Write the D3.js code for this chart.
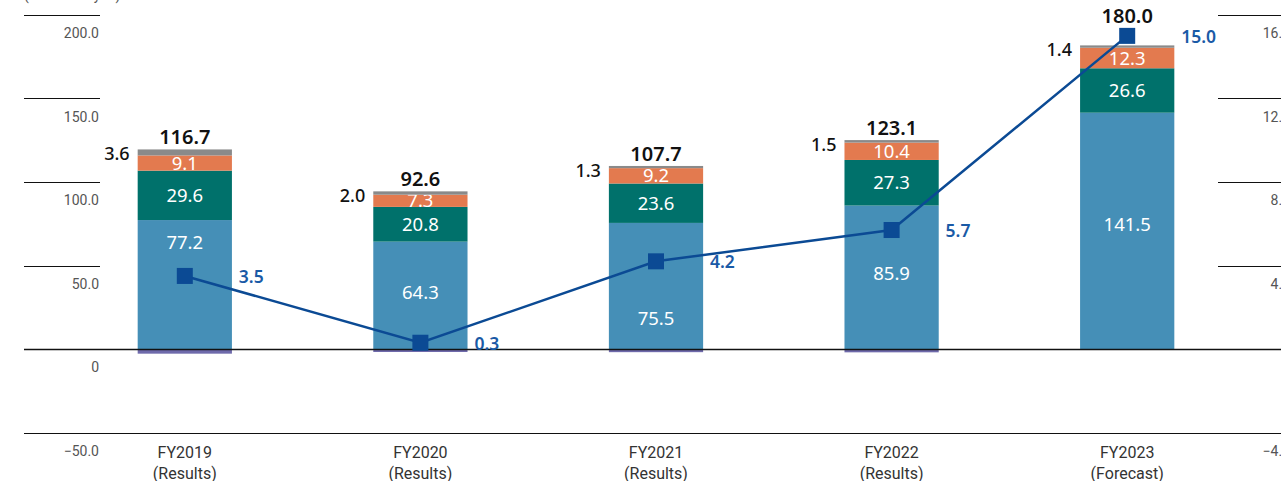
<!DOCTYPE html>
<html lang="en">
<head>
  <meta charset="UTF-8">
  <title>Results and Forecast</title>
  <script src="https://cdn.jsdelivr.net/npm/d3@7/dist/d3.min.js"></script>
  <style>
    html, body { margin: 0; padding: 0; background: #fff; }
    svg { display: block; }
    .tick-label { font-family: Roboto, sans-serif; font-size: 14px; fill: #555; }
    .cat-label { font-family: Roboto, sans-serif; font-size: 16px; fill: #333; }
    .seg-label { font-family: "Noto Sans", sans-serif; font-size: 18.5px; fill: #fff; }
    .total-label { font-family: "Noto Sans", sans-serif; font-size: 20px; font-weight: 600; fill: #111; }
    .side-label { font-family: "Noto Sans", sans-serif; font-size: 18px; font-weight: 500; fill: #111; }
    .line-label { font-family: "Noto Sans", sans-serif; font-size: 17.5px; font-weight: 600; fill: #1a5aa6; }
  </style>
</head>
<body>
  <svg width="1281" height="481"></svg>
  <script>
    const categories = ["FY2019", "FY2020", "FY2021", "FY2022", "FY2023"];
    const periods    = ["(Results)", "(Results)", "(Results)", "(Results)", "(Forecast)"];

    // stacked segments, bottom to top
    const blueVals   = [77.2, 64.3, 75.5, 85.9, 141.5];
    const greenVals  = [29.6, 20.8, 23.6, 27.3, 26.6];
    const orangeVals = [9.1, 7.3, 9.2, 10.4, 12.3];
    const grayVals   = [3.6, 2.0, 1.3, 1.5, 1.4];
    const purpleVals = [-2.8, -1.8, -1.9, -2.0, 0];   // small negative piece under zero
    const totals     = [116.7, 92.6, 107.7, 123.1, 180.0];

    const lineVals   = [3.5, 0.3, 4.2, 5.7, 15.0];

    const leftTicks  = [200, 150, 100, 50, 0, -50];
    const rightTicks = [16, 12, 8, 4, 0, -4];

    // nudge for blue labels so they clear the line markers (px)
    const blueLabelShift = [-42, -3, 33, -4, -6];

    const svg = d3.select("svg");

    const x = d3.scaleBand().domain(categories).range([67, 1245]).paddingInner(0.6).paddingOuter(0.3);
    const y = d3.scaleLinear().domain([-50, 200]).range([432.5, 15]);
    const y2 = d3.scaleLinear().domain([-4, 16]).range([432.5, 15]);
    const fmt = v => v === 0 ? "0" : d3.format(".1f")(v);

    // axis title (cut off at the top)
    svg.append("text").attr("class", "tick-label").attr("x", 24).attr("y", 0)
      .text("(Billions of yen)");

    // left grid + labels
    leftTicks.forEach(t => {
      const full = t <= 0;
      svg.append("line")
        .attr("x1", 24).attr("x2", full ? 1281 : 100)
        .attr("y1", Math.round(y(t)) + 0.5).attr("y2", Math.round(y(t)) + 0.5)
        .attr("stroke", "#111").attr("stroke-width", 1);
      svg.append("text").attr("class", "tick-label")
        .attr("x", 99).attr("y", y(t) + 23).attr("text-anchor", "end")
        .text(fmt(t));
    });

    // right grid + labels
    rightTicks.forEach(t => {
      if (t > 0) {
        svg.append("line")
          .attr("x1", 1218).attr("x2", 1281)
          .attr("y1", Math.round(y2(t)) + 0.5).attr("y2", Math.round(y2(t)) + 0.5)
          .attr("stroke", "#111").attr("stroke-width", 1);
      }
      svg.append("text").attr("class", "tick-label")
        .attr("x", 1290).attr("y", y2(t) + 23).attr("text-anchor", "end")
        .text(fmt(t));
    });

    const series = [
      { vals: blueVals,   color: "#458fb7", label: true, shift: blueLabelShift },
      { vals: greenVals,  color: "#00716b", label: true },
      { vals: orangeVals, color: "#e37a4f", label: true },
      { vals: grayVals,   color: "#8a8a8a", label: false }
    ];

    const g = svg.append("g");

    categories.forEach((c, i) => {
      const bx = x(c), bw = x.bandwidth();
      let base = 0;
      series.forEach(s => {
        const v = s.vals[i];
        const top = base + v;
        g.append("rect")
          .attr("x", bx).attr("width", bw)
          .attr("y", y(top)).attr("height", y(base) - y(top))
          .attr("fill", s.color);
        if (s.label) {
          const dy = s.shift ? s.shift[i] : 0;
          g.append("text").attr("class", "seg-label")
            .attr("x", bx + bw / 2).attr("y", (y(base) + y(top)) / 2 + 6.5 + dy)
            .attr("text-anchor", "middle").text(v.toFixed(1));
        }
        base = top;
      });
      // negative piece
      if (purpleVals[i] < 0) {
        g.append("rect")
          .attr("x", bx).attr("width", bw)
          .attr("y", y(0)).attr("height", y(purpleVals[i]) - y(0))
          .attr("fill", "#6f6aab");
      }
      // gray value at the side
      g.append("text").attr("class", "side-label")
        .attr("x", bx - 8).attr("y", y(base) + 11).attr("text-anchor", "end")
        .text(grayVals[i].toFixed(1));
      // total
      const topY = Math.min(y(base), y2(lineVals[i]) - 8);
      g.append("text").attr("class", "total-label")
        .attr("x", bx + bw / 2).attr("y", topY - 5).attr("text-anchor", "middle")
        .text(totals[i].toFixed(1));
    });

    // zero line on top of bars
    svg.append("line")
      .attr("x1", 24).attr("x2", 1281)
      .attr("y1", Math.round(y(0)) + 0.5).attr("y2", Math.round(y(0)) + 0.5)
      .attr("stroke", "#111").attr("stroke-width", 1.3);

    // line series
    const cx = c => x(c) + x.bandwidth() / 2;
    const lineData = categories.map((c, i) => ({ c, v: lineVals[i] }));
    svg.append("path").datum(lineData)
      .attr("fill", "none").attr("stroke", "#0b4a94").attr("stroke-width", 2.5)
      .attr("d", d3.line().x(d => cx(d.c)).y(d => y2(d.v)));
    svg.selectAll(".marker").data(lineData).enter().append("rect")
      .attr("class", "marker")
      .attr("x", d => cx(d.c) - 8).attr("y", d => y2(d.v) - 8)
      .attr("width", 16).attr("height", 16).attr("fill", "#0b4a94");
    svg.selectAll(".line-label").data(lineData).enter().append("text")
      .attr("class", "line-label")
      .attr("x", d => cx(d.c) + 54).attr("y", d => y2(d.v) + 7)
      .text(d => d.v.toFixed(1));

    // category labels
    categories.forEach((c, i) => {
      svg.append("text").attr("class", "cat-label")
        .attr("x", cx(c)).attr("y", 458).attr("text-anchor", "middle").text(c);
      svg.append("text").attr("class", "cat-label")
        .attr("x", cx(c)).attr("y", 479).attr("text-anchor", "middle").text(periods[i]);
    });
  </script>
</body>
</html>
